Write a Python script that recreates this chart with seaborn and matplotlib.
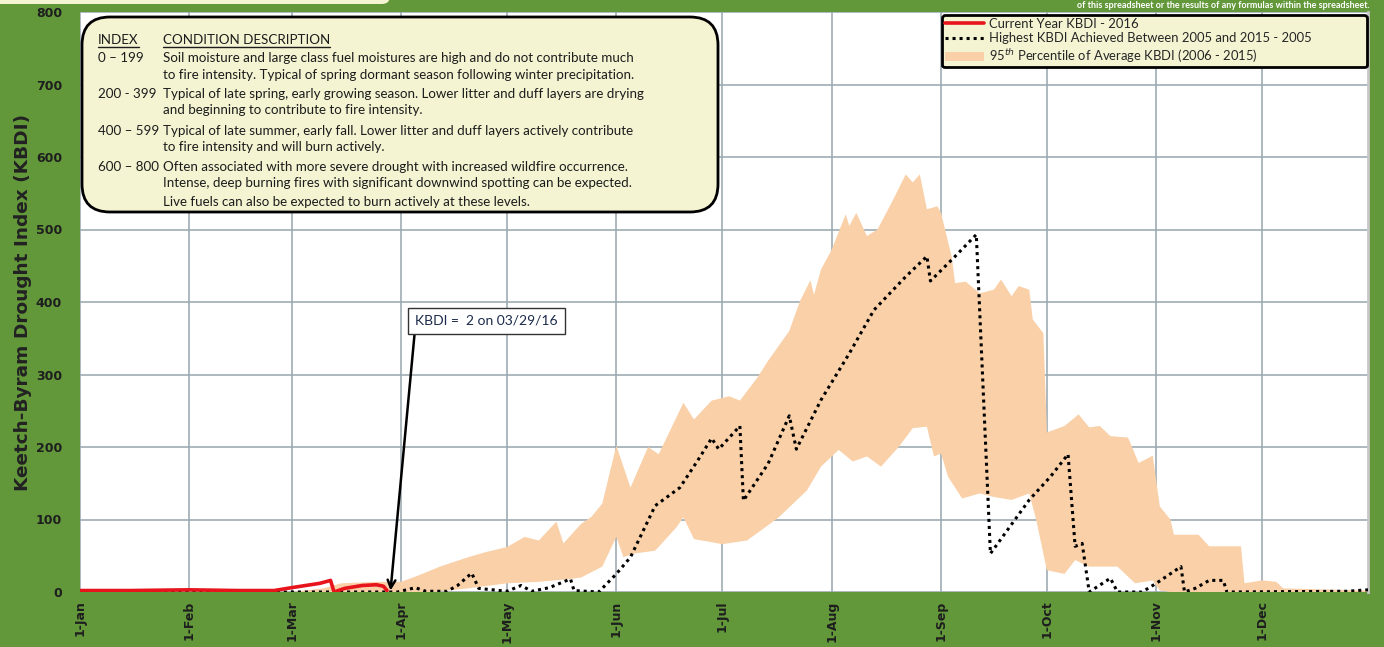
import numpy as np
import pandas as pd
import seaborn as sns
import matplotlib.pyplot as plt
import matplotlib.dates as mdates
from matplotlib.patches import FancyBboxPatch, Patch
from matplotlib.lines import Line2D

sns.set_theme(style="white")
plt.rcParams['font.family'] = ['DejaVu Sans']
NARROW = ['Lato', 'DejaVu Sans']

GREEN = '#62983a'
BAND = '#f9d0a8'
CREAM = '#f4f3d2'

# current year 2016
cur_dates = ["2016-01-01", "2016-01-15", "2016-02-01", "2016-02-15", "2016-02-25",
             "2016-03-01", "2016-03-05", "2016-03-09", "2016-03-12", "2016-03-13",
             "2016-03-16", "2016-03-21", "2016-03-25", "2016-03-27", "2016-03-28"]
cur_kbdi = [2, 2, 3, 2, 2, 6, 9, 12, 16, 0, 5, 9, 10, 8, 2]

# highest KBDI year (2005)
max_dates = ["2016-01-01", "2016-03-31", "2016-04-05", "2016-04-08", "2016-04-14",
             "2016-04-17", "2016-04-21", "2016-04-23", "2016-05-01", "2016-05-05",
             "2016-05-08", "2016-05-13", "2016-05-19", "2016-05-20", "2016-05-27",
             "2016-06-01", "2016-06-05", "2016-06-12", "2016-06-19", "2016-06-24",
             "2016-06-28", "2016-06-30", "2016-07-06", "2016-07-07", "2016-07-14",
             "2016-07-20", "2016-07-22", "2016-07-29", "2016-08-06", "2016-08-13",
             "2016-08-22", "2016-08-28", "2016-08-29", "2016-09-05", "2016-09-11",
             "2016-09-15", "2016-09-26", "2016-10-02", "2016-10-07", "2016-10-09",
             "2016-10-11", "2016-10-13", "2016-10-19", "2016-10-21", "2016-10-28",
             "2016-11-01", "2016-11-08", "2016-11-09", "2016-11-12", "2016-11-16",
             "2016-11-20", "2016-11-21", "2016-12-25", "2016-12-31"]
max_kbdi = [0, 0, 6, 1, 1, 9, 26, 5, 1, 9, 1, 6, 18, 2, 0,
            25, 48, 119, 144, 181, 212, 197, 229, 126, 177, 243, 197, 265, 329, 389,
            435, 463, 429, 463, 493, 53, 127, 159, 190, 63, 67, 0, 19, 0, 0,
            12, 35, 0, 5, 16, 16, 0, 1, 3]

# 95th percentile band (2006 - 2015), upper and lower edges
up_dates = ["2016-03-01", "2016-03-10", "2016-03-15", "2016-03-25", "2016-04-01",
            "2016-04-06", "2016-04-12", "2016-04-20", "2016-04-25", "2016-05-01",
            "2016-05-06", "2016-05-10", "2016-05-15", "2016-05-17", "2016-05-22",
            "2016-05-25", "2016-05-28", "2016-06-01", "2016-06-05", "2016-06-10",
            "2016-06-13", "2016-06-20", "2016-06-23", "2016-06-28", "2016-07-03",
            "2016-07-06", "2016-07-11", "2016-07-14", "2016-07-20", "2016-07-23",
            "2016-07-26", "2016-07-27", "2016-07-29", "2016-08-01", "2016-08-05",
            "2016-08-06", "2016-08-08", "2016-08-11", "2016-08-14", "2016-08-18",
            "2016-08-22", "2016-08-24", "2016-08-26", "2016-08-28", "2016-08-31",
            "2016-09-01", "2016-09-04", "2016-09-05", "2016-09-08", "2016-09-12",
            "2016-09-16", "2016-09-18", "2016-09-21", "2016-09-23", "2016-09-26",
            "2016-09-27", "2016-09-30", "2016-10-01", "2016-10-06", "2016-10-10",
            "2016-10-13", "2016-10-16", "2016-10-19", "2016-10-24", "2016-10-27",
            "2016-10-31", "2016-11-02", "2016-11-05", "2016-11-06", "2016-11-13",
            "2016-11-16", "2016-11-25", "2016-11-26", "2016-12-01", "2016-12-05",
            "2016-12-07", "2016-12-31"]
up_kbdi = [0, 5, 12, 14, 14, 23, 35, 48, 55, 62, 76, 71, 97, 67, 94,
           104, 122, 202, 144, 200, 190, 261, 238, 264, 270, 264, 296, 319, 360, 401,
           430, 410, 445, 472, 521, 505, 523, 491, 500, 537, 576, 565, 576, 528, 532,
           523, 463, 426, 428, 412, 417, 431, 408, 422, 417, 376, 357, 220, 229, 245,
           227, 229, 215, 213, 178, 188, 118, 100, 79, 79, 63, 63, 12, 16, 14,
           5, 2]

low_dates = ["2016-03-01", "2016-04-10", "2016-04-20", "2016-05-01", "2016-05-10",
             "2016-05-19", "2016-05-22", "2016-05-28", "2016-06-01", "2016-06-03",
             "2016-06-06", "2016-06-12", "2016-06-18", "2016-06-20", "2016-06-23",
             "2016-07-01", "2016-07-08", "2016-07-12", "2016-07-17", "2016-07-25",
             "2016-07-29", "2016-08-03", "2016-08-07", "2016-08-11", "2016-08-15",
             "2016-08-20", "2016-08-24", "2016-08-28", "2016-08-30", "2016-09-01",
             "2016-09-03", "2016-09-07", "2016-09-12", "2016-09-16", "2016-09-21",
             "2016-09-26", "2016-09-28", "2016-10-01", "2016-10-06", "2016-10-09",
             "2016-10-13", "2016-10-21", "2016-10-26", "2016-10-31", "2016-11-02",
             "2016-11-05", "2016-12-31"]
low_kbdi = [0, 0, 5, 12, 14, 18, 20, 35, 76, 48, 53, 57, 89, 103, 73,
            66, 71, 85, 103, 140, 173, 196, 180, 187, 173, 200, 226, 228, 187, 191,
            159, 129, 136, 131, 127, 136, 99, 30, 25, 44, 35, 35, 12, 16, 2,
            0, 0]

month_ticks = pd.date_range("2016-01-01", periods=12, freq="MS")
month_labels = ["1-Jan", "1-Feb", "1-Mar", "1-Apr", "1-May", "1-Jun",
                "1-Jul", "1-Aug", "1-Sep", "1-Oct", "1-Nov", "1-Dec"]

index_ranges = ["0 \u2013 199", "200 - 399", "400 \u2013 599", "600 \u2013 800"]
index_text = [
    ["Soil moisture and large class fuel moistures are high and do not contribute much",
     "to fire intensity. Typical of spring dormant season following winter precipitation."],
    ["Typical of late spring, early growing season. Lower litter and duff layers are drying",
     "and beginning to contribute to fire intensity."],
    ["Typical of late summer, early fall. Lower litter and duff layers actively contribute",
     "to fire intensity and will burn actively."],
    ["Often associated with more severe drought with increased wildfire occurrence.",
     "Intense, deep burning fires with significant downwind spotting can be expected.",
     "Live fuels can also be expected to burn actively at these levels."],
]

W, H = 1384, 647
fig = plt.figure(figsize=(W / 100, H / 100), dpi=100, facecolor=GREEN)
ax = fig.add_axes([80 / W, 55 / H, 1288 / W, 580 / H])
ax.set_facecolor('white')
ax.set_axisbelow(True)

# band as polygon: upper edge forward, lower edge back
ux = mdates.date2num(pd.to_datetime(up_dates))
lx = mdates.date2num(pd.to_datetime(low_dates))
ax.fill(np.concatenate([ux, lx[::-1]]),
        np.concatenate([up_kbdi, low_kbdi[::-1]]),
        color=BAND, lw=0, zorder=1)

sns.lineplot(x=pd.to_datetime(max_dates), y=max_kbdi, ax=ax, color='black',
             linewidth=2.2, linestyle=(0, (1, 1.3)), zorder=3)
sns.lineplot(x=pd.to_datetime(cur_dates), y=cur_kbdi, ax=ax, color='#e8141c',
             linewidth=2.6, zorder=4)

ax.set_xlim(pd.Timestamp("2016-01-01"), pd.Timestamp("2016-12-31"))
ax.set_ylim(0, 800)
ax.set_yticks(range(0, 801, 100))
ax.set_yticklabels([str(v) for v in range(0, 801, 100)], fontweight='bold',
                   fontsize=9, color='#1e1e1e')
ax.set_xticks(month_ticks)
ax.set_xticklabels(month_labels, rotation=90, fontweight='bold', fontsize=9,
                   color='#1e1e1e')
ax.tick_params(axis='both', length=0)
ax.tick_params(axis='y', pad=13)
ax.tick_params(axis='x', pad=6)
ax.grid(True, color='#97a6ad', linewidth=1.1)
for s in ['top', 'left', 'bottom']:
    ax.spines[s].set_visible(False)
ax.spines['right'].set_color('#c8c8c8')
ax.spines['right'].set_linewidth(2)

ax.set_xlabel('')
ax.set_ylabel('Keetch-Byram Drought Index (KBDI)', fontsize=13.3,
              fontweight='bold', color='#222222')
ax.yaxis.set_label_coords(-0.037, 0.5)

# annotation of the latest value
ax.annotate('KBDI =  2 on 03/29/16',
            xy=(pd.Timestamp("2016-03-29"), 2),
            xytext=(pd.Timestamp("2016-04-05"), 374),
            ha='left', va='center', fontsize=10, family=NARROW, color='#1b2a4a',
            bbox=dict(boxstyle='square,pad=0.5', fc='white', ec='#333333', lw=1),
            arrowprops=dict(arrowstyle='->', color='black', lw=1.8,
                            shrinkA=0, shrinkB=0, mutation_scale=14,
                            relpos=(0, 0)),
            zorder=6)

# legend, stretched across its box like the sheet's one
handles = [Line2D([], [], color='#e8141c', lw=2.6),
           Line2D([], [], color='black', lw=2.2, linestyle=(0, (1, 1.3))),
           Patch(facecolor=BAND, edgecolor='none')]
labels = ['Current Year KBDI - 2016',
          'Highest KBDI Achieved Between 2005 and 2015 - 2005',
          '95$^{th}$ Percentile of Average KBDI (2006 - 2015)']
leg = ax.legend(handles, labels, loc='upper left', mode='expand',
                bbox_to_anchor=(862 / 1288, 0.0, 425 / 1288, 1 - 3 / 580),
                borderaxespad=0,
                prop={'family': NARROW, 'size': 9.4}, frameon=True, fancybox=True,
                framealpha=1, facecolor=CREAM, edgecolor='black',
                handlelength=3.0, handletextpad=0.4, labelspacing=0.2,
                borderpad=0.2)
leg.get_frame().set_linewidth(2)
leg.set_zorder(7)


def px(x, y):
    return x / W, 1 - y / H


# index description box
box = FancyBboxPatch((0.82, (H - 212) / 100), 6.36, 1.95,
                     boxstyle='round,pad=0,rounding_size=0.28',
                     transform=fig.dpi_scale_trans, fc=CREAM, ec='black',
                     lw=2, zorder=8)
fig.patches.append(box)

tx = dict(family=NARROW, fontsize=9.6, color='#1c1c1c', va='center', zorder=9)
head = [fig.text(*px(98, 40), 'INDEX', **tx),
        fig.text(*px(163, 40), 'CONDITION DESCRIPTION', **tx)]

row_y = [[58, 75], [94, 110], [131, 147], [167, 183, 202]]
for rng, lines, ys in zip(index_ranges, index_text, row_y):
    fig.text(*px(98, ys[0]), rng, **tx)
    for line, yy in zip(lines, ys):
        fig.text(*px(163, yy), line, **tx)

# underline the two headings
fig.canvas.draw()
renderer = fig.canvas.get_renderer()
for t in head:
    bb = t.get_window_extent(renderer)
    fig.add_artist(Line2D([bb.x0, bb.x1], [bb.y0 - 1, bb.y0 - 1],
                          transform=None, color='#1c1c1c', lw=1, zorder=9))

# header bits at the top of the sheet
fig.patches.append(FancyBboxPatch((-0.1, (H - 4) / 100), 4.0, 0.3,
                                  boxstyle='round,pad=0,rounding_size=0.08',
                                  transform=fig.dpi_scale_trans, fc=CREAM,
                                  ec='none'))
fig.text(1370 / W, 1 - 1 / H,
         'of this spreadsheet or the results of any formulas within the spreadsheet.',
         ha='right', va='top', color='white', fontsize=6.5, fontweight='bold',
         family=NARROW)

fig.savefig('out.png', dpi=100, facecolor=GREEN)
